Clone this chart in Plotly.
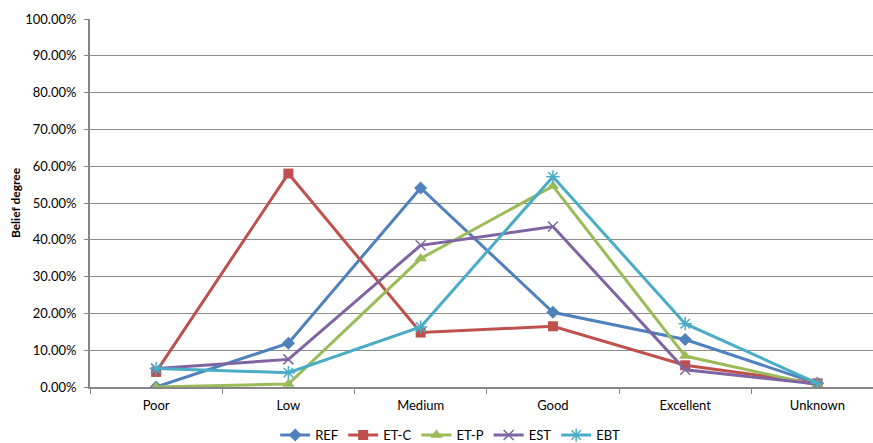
import plotly.graph_objects as go

categories = ["Poor", "Low", "Medium", "Good", "Excellent", "Unknown"]

ref = [0.0, 11.9, 54.1, 20.3, 12.9, 1.0]
et_c = [4.1, 58.0, 14.8, 16.5, 5.9, 1.0]
et_p = [0.0, 0.8, 34.9, 54.6, 8.4, 0.5]
est = [5.0, 7.5, 38.5, 43.6, 4.7, 0.8]
ebt = [5.0, 3.9, 16.3, 57.1, 17.2, 1.0]

y_ticks = [0, 10, 20, 30, 40, 50, 60, 70, 80, 90, 100]
y_tick_text = [f"{v:.2f}%" for v in y_ticks]

series = [
    ("REF", ref, "#4F81BD", dict(symbol="diamond", size=10)),
    ("ET-C", et_c, "#C0504D", dict(symbol="square", size=10)),
    ("ET-P", et_p, "#9BBB59", dict(symbol="triangle-up", size=11)),
    ("EST", est, "#8064A2", dict(symbol="x-thin-open", size=10, line=dict(width=1.5, color="#8064A2"))),
    ("EBT", ebt, "#4BACC6", dict(symbol="asterisk-open", size=11, line=dict(width=1.5, color="#4BACC6"))),
]

fig = go.Figure()
for name, vals, color, marker in series:
    fig.add_trace(go.Scatter(
        x=categories, y=vals, name=name, mode="lines+markers",
        line=dict(color=color, width=3),
        marker=dict(color=color, **marker),
    ))

font = "Lato, 'Open Sans', sans-serif"
fig.update_layout(
    width=873, height=443,
    margin=dict(l=90, r=0, t=19, b=56, autoexpand=False),
    paper_bgcolor="white", plot_bgcolor="white",
    font=dict(family=font, size=13, color="#000000"),
    showlegend=True,
    legend=dict(orientation="h", x=0.46, xanchor="center",
                yref="container", y=0.018, yanchor="middle",
                font=dict(size=13), itemwidth=30, tracegroupgap=0),
)
fig.update_xaxes(
    type="category", range=[-0.5, 5.42],
    showline=True, linecolor="#868686", linewidth=2,
    ticks="outside", tickson="boundaries", ticklen=5, tickcolor="#868686",
    ticklabelstandoff=5,
    showgrid=False, zeroline=False,
)
fig.update_yaxes(
    range=[0, 100], tickvals=y_ticks, ticktext=y_tick_text,
    showline=True, linecolor="#868686", linewidth=2,
    ticks="outside", ticklen=4, tickcolor="#868686", ticklabelstandoff=5,
    showgrid=True, gridcolor="#8C8C8C", gridwidth=1, zeroline=False,
    title=dict(text="<b>Belief degree</b>", font=dict(size=12), standoff=2),
)

fig.write_html("out.html")
